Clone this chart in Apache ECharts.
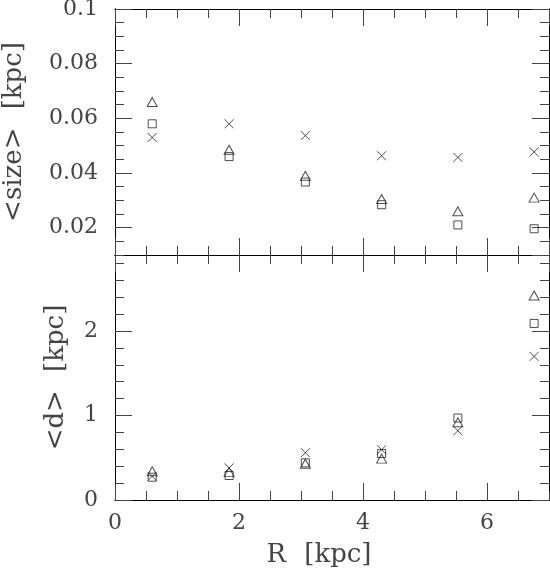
<!DOCTYPE html>
<html>
<head>
<meta charset="utf-8">
<script src="https://cdn.jsdelivr.net/npm/echarts@6/dist/echarts.min.js"></script>
<style>
  html, body { margin: 0; background: #fff; }
  #chart { width: 550px; height: 575px; }
</style>
</head>
<body>
<div id="chart"></div>
<script>
// radius of each bin [kpc]
const radius = [0.6, 1.84, 3.07, 4.3, 5.53, 6.76]
// <size> [kpc]
const sizeTri = [0.066, 0.0485, 0.039, 0.0305, 0.026, 0.031]
const sizeSq = [0.058, 0.046, 0.0367, 0.0284, 0.021, 0.0196]
const sizeX = [0.053, 0.058, 0.0537, 0.0463, 0.0457, 0.0477]
// <d> [kpc]
const dTri = [0.34, 0.33, 0.43, 0.49, 0.92, 2.42]
const dSq = [0.27, 0.29, 0.44, 0.55, 0.97, 2.09]
const dX = [0.28, 0.38, 0.56, 0.595, 0.82, 1.7]
// tick labels
const sizeTicks = [0.02, 0.04, 0.06, 0.08, 0.1]

const FONT = 'DejaVu Serif'
const INK = '#222'
const GAP = '\u2002\u2009'

function pairs(ys) {
  return radius.map((r, i) => [r, ys[i]])
}

// one axis; every side gets a minor one (short ticks) and a major one (long ticks)
function axis(grid, position, min, max, interval, len, extra) {
  return Object.assign({
    type: 'value',
    gridIndex: grid,
    position: position,
    min: min,
    max: max,
    interval: interval,
    axisLine: { show: true, onZero: false, lineStyle: { color: '#000', width: 1 } },
    axisTick: { show: true, inside: true, length: len, lineStyle: { color: '#444', width: 1 } },
    axisLabel: { show: false },
    splitLine: { show: false },
    nameMoveOverlap: false,
  }, extra || {})
}

const labelStyle = { fontFamily: FONT, fontSize: 22, color: '#444' }
const nameStyle = { fontFamily: FONT, fontSize: 26, color: '#444' }

const xAxis = [
  // top panel
  axis(0, 'bottom', 0, 7, 0.5, 9),
  axis(0, 'bottom', 0, 7, 2, 17),
  axis(0, 'top', 0, 7, 0.5, 9),
  axis(0, 'top', 0, 7, 2, 17),
  // bottom panel
  axis(1, 'bottom', 0, 7, 0.5, 9),
  axis(1, 'bottom', 0, 7, 2, 17, {
    axisLabel: Object.assign({ show: true, margin: 12, showMaxLabel: false }, labelStyle),
    name: 'R' + GAP + '[kpc]',
    nameLocation: 'middle',
    nameGap: 42,
    nameTextStyle: Object.assign({ padding: [0, 26, 0, 0] }, nameStyle),
  }),
  axis(1, 'top', 0, 7, 0.5, 9),
  axis(1, 'top', 0, 7, 2, 17),
]

const yAxis = [
  // top panel
  axis(0, 'left', 0.01, 0.1, 0.005, 9),
  axis(0, 'left', 0.01, 0.1, 0.005, 17, {
    axisTick: { show: true, inside: true, length: 17, customValues: sizeTicks, lineStyle: { color: '#444', width: 1 } },
    axisLabel: Object.assign({ show: true, margin: 17, customValues: sizeTicks }, labelStyle),
    name: '<size>' + GAP + '[kpc]',
    nameLocation: 'middle',
    nameGap: 88,
    nameTextStyle: nameStyle,
  }),
  axis(0, 'right', 0.01, 0.1, 0.005, 9),
  axis(0, 'right', 0.01, 0.1, 0.005, 17, {
    axisTick: { show: true, inside: true, length: 17, customValues: sizeTicks, lineStyle: { color: '#444', width: 1 } },
  }),
  // bottom panel
  axis(1, 'left', 0, 2.9, 0.2, 9),
  axis(1, 'left', 0, 2.9, 1, 17, {
    axisLabel: Object.assign({ show: true, margin: 17, showMaxLabel: false }, labelStyle),
    name: '<d>' + GAP + '[kpc]',
    nameLocation: 'middle',
    nameGap: 46,
    nameTextStyle: nameStyle,
  }),
  axis(1, 'right', 0, 2.9, 0.2, 9),
  axis(1, 'right', 0, 2.9, 1, 17),
]

const markStyle = { color: 'rgba(0,0,0,0)', borderColor: INK, borderWidth: 1 }
const crossPath = 'path://M0,0L10,10M10,0L0,10'

function pts(name, ys, symbol, size, xi, yi) {
  return {
    name: name,
    type: 'scatter',
    xAxisIndex: xi,
    yAxisIndex: yi,
    symbol: symbol,
    symbolSize: size,
    itemStyle: markStyle,
    data: pairs(ys),
    silent: true,
  }
}

const chart = echarts.init(document.getElementById('chart'), null, { renderer: 'canvas' })
chart.setOption({
  animation: false,
  backgroundColor: '#fff',
  grid: [
    { left: 115, top: 9, width: 434, height: 246, containLabel: false, outerBoundsMode: 'none' },
    { left: 115, top: 255, width: 434, height: 245, containLabel: false, outerBoundsMode: 'none' },
  ],
  xAxis: xAxis,
  yAxis: yAxis,
  series: [
    pts('size tri', sizeTri, 'triangle', [10, 9], 1, 1),
    pts('size sq', sizeSq, 'rect', 8, 1, 1),
    pts('size x', sizeX, crossPath, 9, 1, 1),
    pts('d tri', dTri, 'triangle', [10, 9], 5, 5),
    pts('d sq', dSq, 'rect', 8, 5, 5),
    pts('d x', dX, crossPath, 9, 5, 5),
  ],
})
</script>
</body>
</html>
